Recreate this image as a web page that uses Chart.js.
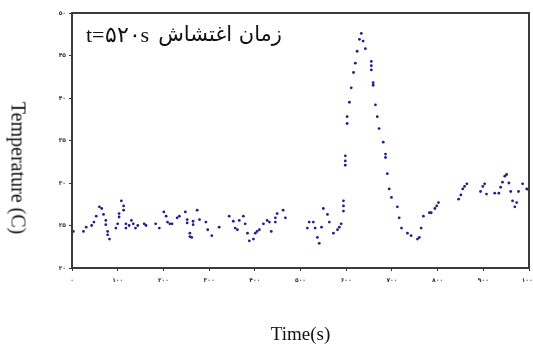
<!DOCTYPE html>
<html>
<head>
<meta charset="utf-8">
<script src="https://cdn.jsdelivr.net/npm/chart.js@4/dist/chart.umd.min.js"></script>
<style>
  html, body { margin: 0; padding: 0; background: #fff; }
  #wrap { position: relative; width: 533px; height: 346px; }
  #yTitle {
    position: absolute; left: 18px; top: 168px;
    transform: translate(-50%, -50%) rotate(90deg);
    font: 20px "Liberation Serif", "Times New Roman", serif;
    white-space: nowrap; color: #111;
  }
  .note { position: absolute; white-space: nowrap; color: #111; }
  #noteT { left: 86px; top: 22px; font: 22px "Liberation Serif", serif; }
  #noteFa { right: 251px; top: 22px; direction: rtl; font: 21px "DejaVu Sans", sans-serif; }
</style>
</head>
<body>
<div id="wrap">
  <canvas id="tempChart" width="533" height="346"></canvas>
  <div id="yTitle">Temperature (C)</div>
  <div class="note" id="noteT">t=۵۲۰s</div>
  <div class="note" id="noteFa">زمان اغتشاش</div>
</div>
<script>
// داده ها (تخمینی از روی تصویر)
const timeS = [3, 25, 31, 43, 48, 53, 60, 65, 69, 74, 74, 78, 78, 82, 96, 100, 103, 103, 108, 113, 113, 118, 118,
  125, 130, 134, 139, 144, 158, 162, 183, 191, 201, 206, 209, 214, 219, 230, 235, 248, 252, 252, 258, 258, 262,
  265, 265, 274, 279, 293, 297, 306, 322, 344, 353, 357, 362, 366, 375, 379, 384, 388, 397, 401, 405, 410, 419,
  427, 432, 436, 445, 445, 449, 462, 467, 515, 519, 528, 532, 537, 541, 546, 550, 559, 563, 572, 581, 585, 589,
  594, 594, 594, 598, 598, 598, 602, 602, 607, 611, 616, 620, 624, 629, 633, 637, 642, 655, 655, 655, 659, 659,
  664, 668, 672, 681, 686, 686, 690, 694, 699, 712, 716, 721, 734, 742, 756, 760, 764, 769, 782, 786, 794, 798,
  802, 846, 851, 855, 859, 864, 894, 899, 903, 907, 925, 934, 938, 942, 947, 951, 956, 960, 964, 969, 973, 977,
  986, 995, 999];
const tempC = [24.3, 24.3, 24.8, 25.0, 25.4, 26.1, 27.2, 27.0, 26.3, 25.1, 25.6, 23.9, 24.3, 23.4, 24.7, 25.2, 26.4, 26.0,
  27.9, 26.8, 27.3, 24.7, 25.2, 25.0, 25.6, 25.2, 24.7, 25.0, 25.2, 25.0, 25.2, 24.7, 26.6, 26.1, 25.4, 25.2, 25.2,
  25.9, 26.1, 26.6, 25.7, 25.3, 24.1, 23.7, 23.6, 25.5, 25.1, 26.8, 25.7, 25.4, 24.5, 23.8, 24.8, 26.1, 25.5, 24.7,
  24.5, 25.6, 26.1, 25.2, 24.1, 23.2, 23.4, 24.1, 24.3, 24.5, 25.2, 25.6, 25.4, 24.3, 25.4, 25.9, 26.4, 26.8, 25.9,
  24.7, 25.4, 25.4, 24.7, 23.6, 22.9, 24.8, 27.0, 26.3, 25.4, 24.1, 24.5, 24.8, 25.2, 26.7, 27.3, 27.9, 32.1, 32.6,
  33.2, 37.0, 37.8, 39.5, 41.2, 43.0, 44.1, 45.5, 46.9, 47.6, 46.7, 45.8, 44.3, 43.8, 43.3, 41.8, 41.5, 39.2, 37.8,
  36.4, 34.8, 33.4, 33.0, 31.1, 29.3, 28.3, 27.2, 25.9, 24.7, 24.1, 23.8, 23.4, 23.6, 24.7, 26.1, 26.5, 26.5, 27.0,
  27.3, 27.7, 28.1, 28.6, 29.3, 29.6, 29.9, 29.0, 29.6, 29.9, 28.7, 28.8, 28.8, 29.5, 30.1, 30.8, 31.0, 30.0, 29.0,
  27.9, 27.2, 27.7, 29.0, 29.9, 29.3, 29.2];
const xTickLabels = ['۰', '۱۰۰', '۲۰۰', '۳۰۰', '۴۰۰', '۵۰۰', '۶۰۰', '۷۰۰', '۸۰۰', '۹۰۰', '۱۰۰۰'];
const yTickLabels = ['۲۰', '۲۵', '۳۰', '۳۵', '۴۰', '۴۵', '۵۰'];

const points = timeS.map((t, i) => ({ x: t, y: tempC[i] }));

// قاب دور ناحیه نمودار
const framePlugin = {
  id: 'frame',
  afterDraw(chart) {
    const { ctx, chartArea: a } = chart;
    ctx.save();
    ctx.strokeStyle = '#3a3a3a';
    ctx.lineWidth = 2;
    ctx.strokeRect(a.left, a.top, a.right - a.left, a.bottom - a.top);
    ctx.restore();
  }
};

const axisCommon = {
  type: 'linear',
  grid: { drawOnChartArea: false, drawTicks: true, tickLength: 3, color: '#333' },
  border: { display: true, color: '#3a3a3a', width: 2 },
};

new Chart(document.getElementById('tempChart'), {
  type: 'scatter',
  data: {
    datasets: [{
      data: points,
      backgroundColor: '#1f1f8c',
      borderWidth: 0,
      pointRadius: 1.4,
      showLine: false
    }]
  },
  options: {
    responsive: false,
    animation: false,
    layout: { padding: { left: 0, right: 4, top: 13, bottom: 0 } },
    plugins: { legend: { display: false }, tooltip: { enabled: false } },
    scales: {
      x: {
        ...axisCommon,
        min: 0, max: 1000,
        ticks: {
          stepSize: 100, color: '#333', padding: 6, maxRotation: 0,
          font: { size: 6, weight: 'bold', family: 'DejaVu Sans' },
          callback: (v, i) => xTickLabels[i]
        },
        title: {
          display: true, text: 'Time(s)', color: '#111',
          font: { size: 19, family: 'Liberation Serif' },
          padding: { top: 0, bottom: 0 }
        },
        afterFit: s => { s.height = 78; s.paddingRight = 0; s.paddingLeft = 0; }
      },
      y: {
        ...axisCommon,
        min: 20, max: 50,
        ticks: {
          stepSize: 5, color: '#333', padding: 3,
          font: { size: 6, weight: 'bold', family: 'DejaVu Sans' },
          callback: (v, i) => yTickLabels[i]
        },
        afterFit: s => { s.width = 72; s.paddingTop = 0; s.paddingBottom = 0; }
      }
    }
  },
  plugins: [framePlugin]
});
</script>
</body>
</html>
